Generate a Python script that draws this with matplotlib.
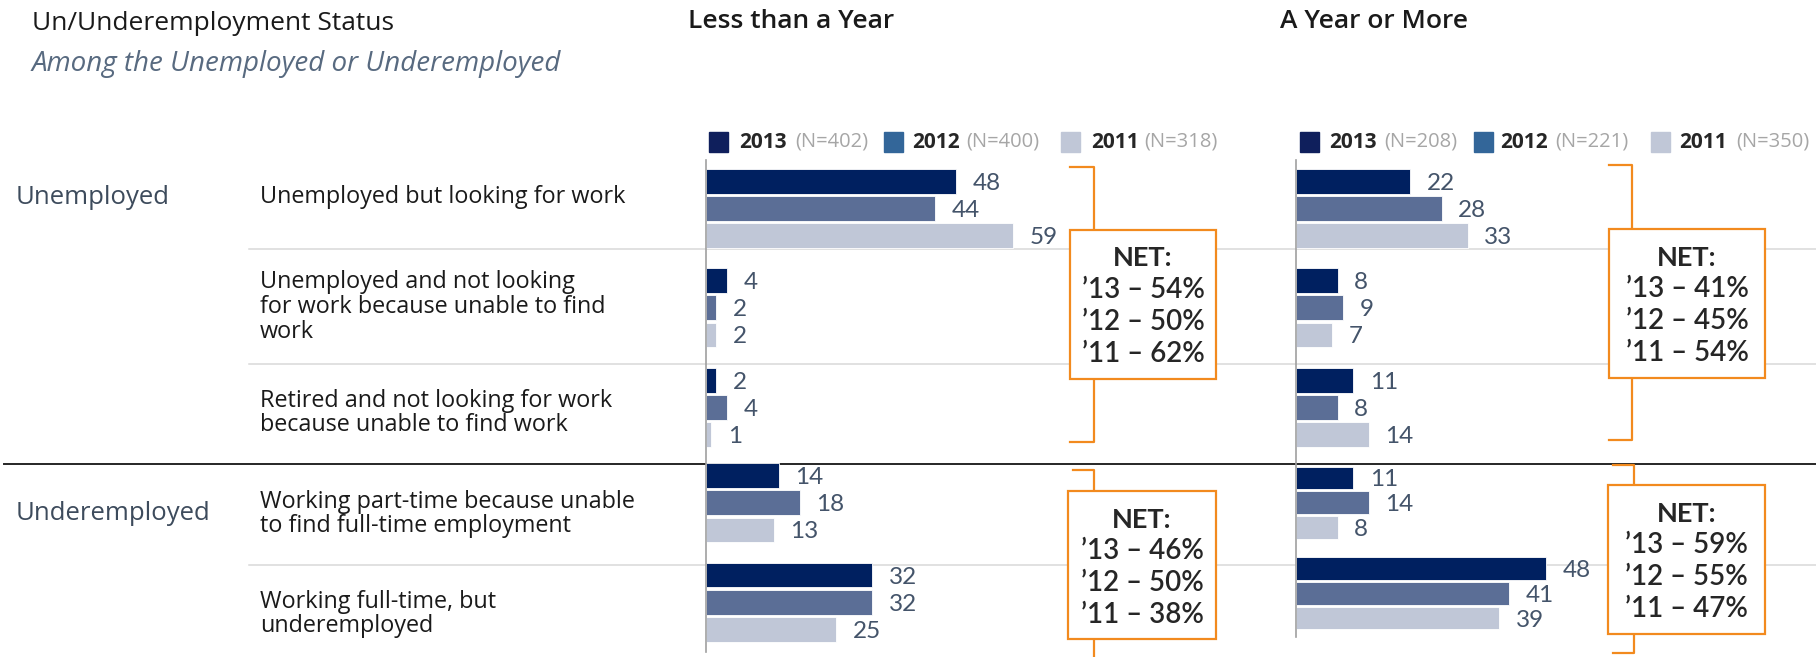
import numpy as np
import matplotlib
matplotlib.use('Agg')
import matplotlib.pyplot as plt
from matplotlib import font_manager as fm
from matplotlib.patches import Rectangle

# data
categories = ['Unemployed but looking for work',
              'Unemployed and not looking\nfor work because unable to find\nwork',
              'Retired and not looking for work\nbecause unable to find work',
              'Working part-time because unable\nto find full-time employment',
              'Working full-time, but\nunderemployed']
groups = ['Unemployed', 'Underemployed']
years = ['2013', '2012', '2011']
less_n = ['(N=402)', '(N=400)', '(N=318)']
more_n = ['(N=208)', '(N=221)', '(N=350)']

less_2013 = [48, 4, 2, 14, 32]
less_2012 = [44, 2, 4, 18, 32]
less_2011 = [59, 2, 1, 13, 25]
more_2013 = [22, 8, 11, 11, 48]
more_2012 = [28, 9, 8, 14, 41]
more_2011 = [33, 7, 14, 8, 39]

net_years = ['\u201913', '\u201912', '\u201911']
less_net = [[54, 50, 62], [46, 50, 38]]
more_net = [[41, 45, 54], [59, 55, 47]]


def pick(*names):
    for n in names:
        try:
            fm.findfont(fm.FontProperties(family=n), fallback_to_default=False)
            return n
        except Exception:
            pass
    return 'DejaVu Sans'


TXT = pick('Open Sans', 'Roboto', 'DejaVu Sans')
NUM = pick('Lato', 'Open Sans', 'DejaVu Sans')

W, H = 1816, 657
PX = 5.2  # pixels per percent
bar_colors = ['#002060', '#5b6e96', '#c0c7d7']
leg_colors = ['#0f1f5c', '#336699', '#c0c7d7']
orange = '#f28a1e'
lab_col = '#44546a'

fig = plt.figure(figsize=(W / 100, H / 100), dpi=100)
bg = fig.add_axes([0, 0, 1, 1])
bg.set_xlim(0, W)
bg.set_ylim(H, 0)
bg.axis('off')

# titles
bg.text(32, 24, 'Un/Underemployment Status', fontsize=19, family=TXT,
        weight='medium', color='#1a1a1a', va='center')
bg.text(32, 64, 'Among the Unemployed or Underemployed', fontsize=20,
        family=TXT, style='italic', color='#586a80', va='center')
bg.text(688, 21, 'Less than a Year', fontsize=19, family=TXT,
        weight='semibold', color='#1a1a1a', va='center')
bg.text(1280, 21, 'A Year or More', fontsize=19, family=TXT,
        weight='semibold', color='#1a1a1a', va='center')

# legends
def legend(sw_x, yr_x, n_x, ns):
    for k in range(3):
        bg.add_patch(Rectangle((sw_x[k], 132), 19, 20, color=leg_colors[k]))
        bg.text(yr_x[k], 142, years[k], fontsize=15, family=TXT, weight='bold',
                color='#262626', va='center')
        bg.text(n_x[k], 142, ns[k], fontsize=14.5, family=TXT,
                color='#a6a6a6', va='center')

legend([709, 884, 1061], [739, 912, 1091], [795, 966, 1144], less_n)
legend([1300, 1474, 1651], [1329, 1500, 1679], [1384, 1555, 1736], more_n)

# row separators
for y in [249.3, 364, 565.3]:
    bg.plot([249, W], [y, y], color='#d9d9d9', lw=1.1, zorder=1)
bg.plot([4, W], [464.3, 464.3], color='#262626', lw=1.4, zorder=1)

# labels
lab_y = [197, 307, 413, 514, 614]
for lab, y in zip(categories, lab_y):
    bg.text(260, y, lab, fontsize=16.8, family=TXT, color='#1a1a1a',
            va='center', linespacing=1.05)
bg.text(16, 198, groups[0], fontsize=18.5, family=TXT, color='#3d4b5c', va='center')
bg.text(16, 514, groups[1], fontsize=18.5, family=TXT, color='#3d4b5c', va='center')


def bar_axes(x0, x1, y0, y1):
    ax = fig.add_axes([x0 / W, 1 - y1 / H, (x1 - x0) / W, (y1 - y0) / H])
    ax.set_xlim(0, (x1 - x0) / PX)
    ax.set_ylim(y1, y0)
    ax.patch.set_alpha(0)
    for s in ['top', 'right', 'bottom']:
        ax.spines[s].set_visible(False)
    ax.spines['left'].set_color('#a0a0a0')
    ax.spines['left'].set_linewidth(1.2)
    ax.set_xticks([])
    ax.set_yticks([])
    return ax


def draw_bars(ax, series, centers, steps, heights):
    centers = np.array(centers)
    steps = np.array(steps)
    for k, vals in enumerate(series):
        ys = centers + (k - 1) * steps
        ax.barh(ys, vals, height=heights, color=bar_colors[k],
                edgecolor='white', linewidth=0.6)
        for v, y in zip(vals, ys):
            ax.annotate(str(v), (v, y), xytext=(12, -1.5), textcoords='offset points',
                        fontsize=17.5, family=NUM, color=lab_col, va='center')


ax1 = bar_axes(706, 1060, 160, 652)
draw_bars(ax1, [less_2013, less_2012, less_2011],
          [208.5, 307.7, 407.5, 502.7, 602.3], [27.2] * 5, [24.5] * 5)
ax2 = bar_axes(1296, 1600, 160, 637)
draw_bars(ax2, [more_2013, more_2012, more_2011],
          [208.5, 307.7, 407.5, 502.7, 593.3], [27.2, 27.2, 27.2, 24.9, 24.8],
          [24.5, 24.5, 24.5, 22.5, 22.5])


# NET brackets and boxes
def net_box(bx, by_top, by_bot, tick_x, box, nets):
    bg.plot([tick_x, bx, bx, tick_x], [by_top, by_top, by_bot, by_bot],
            color=orange, lw=1.6, zorder=2, clip_on=False)
    x0, y0, x1, y1 = box
    bg.add_patch(Rectangle((x0, y0), x1 - x0, y1 - y0, facecolor='white',
                           edgecolor=orange, lw=1.6, zorder=3))
    cx = (x0 + x1) / 2
    bg.text(cx, y0 + 28.5, 'NET:', fontsize=19.5, family=NUM, weight='bold',
            color='#262626', ha='center', va='center', zorder=4)
    for i, (yr, v) in enumerate(zip(net_years, nets)):
        bg.text(cx, y0 + 60 + 31.8 * i, f'{yr} \u2013 {v}%', fontsize=20,
                family=NUM, weight='semibold', color='#262626', ha='center',
                va='center', zorder=4)


net_box(1094, 166.7, 442, 1070, (1070, 230, 1216, 378.7), less_net[0])
net_box(1094, 470.3, 700, 1073, (1068, 491, 1216, 639.3), less_net[1])
net_box(1632.3, 165, 440.3, 1609, (1609, 229, 1765, 377.7), more_net[0])
net_box(1634, 465.3, 653, 1613, (1608, 485.3, 1765, 633.7), more_net[1])

fig.savefig('out.png', dpi=100)
